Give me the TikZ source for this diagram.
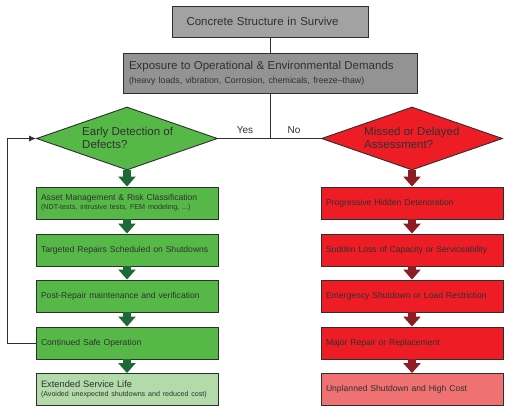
\documentclass[tikz,border=0pt]{standalone}
\usepackage{fontspec}
\setmainfont{Liberation Sans}
\usetikzlibrary{shapes.geometric,arrows.meta}
\definecolor{greyA}{HTML}{A2A2A2}
\definecolor{greyB}{HTML}{939393}
\definecolor{gfill}{HTML}{56B947}
\definecolor{glight}{HTML}{B2DBA9}
\definecolor{rfill}{HTML}{EE1D25}
\definecolor{rlight}{HTML}{F07172}
\definecolor{garr}{HTML}{1D6A36}
\definecolor{rarr}{HTML}{8C1D22}
\definecolor{edge}{HTML}{2E2E2E}
\definecolor{txt}{HTML}{303030}
\tikzset{
  box/.style={draw=edge, line width=0.9pt, rectangle, minimum height=32pt,
    text width=172pt, inner xsep=5pt, inner ysep=0pt, align=left,
    font=\fontsize{8.6}{10}\selectfont, text=txt},
  gbox/.style={box, fill=gfill},
  rbox/.style={box, fill=rfill},
  dia/.style={diamond, draw=edge, line width=0.9pt, minimum width=181pt,
    minimum height=63pt, inner sep=0pt},
  diatext/.style={anchor=west, align=left, inner sep=0pt,
    font=\fontsize{11.5}{13}\selectfont, text=txt},
  garrow/.style={draw=garr, line width=8pt, -{Triangle[width=17pt,length=10pt]}},
  rarrow/.style={draw=rarr, line width=8pt, -{Triangle[width=17pt,length=10pt]}},
  conn/.style={draw=edge, line width=0.9pt},
  lbl/.style={font=\fontsize{10}{12}\selectfont, text=txt, inner sep=0pt}
}
\begin{document}
\begin{tikzpicture}[x=1pt,y=-1pt]
\useasboundingbox (0,0) rectangle (516,416);
% top boxes
\node[draw=edge, line width=0.9pt, fill=greyA, minimum width=196pt, minimum height=31pt,
  text width=167pt, inner xsep=14.5pt, align=left, inner ysep=0pt,
  font=\fontsize{11.5}{13}\selectfont, text=txt] (top) at (270,21.5) {Concrete Structure in Survive};
\node[draw=edge, line width=0.9pt, fill=greyB, minimum width=294pt, minimum height=40pt,
  text width=282pt, inner xsep=6pt, inner ysep=0pt, align=left, text=txt] (exp) at (270,73)
  {{\fontsize{11.5}{15}\selectfont Exposure to Operational \& Environmental Demands}\\[1.5pt]
   {\fontsize{8.8}{10}\selectfont (heavy loads, vibration, Corrosion, chemicals, freeze--thaw)}};
% diamonds
\node[dia, fill=gfill] (dl) at (127,138.5) {};
\node[dia, fill=rfill] (dr) at (412,138.5) {};
\node[diatext] (dlt) at (82,137.5) {Early Detection of\\Defects?};
\node[diatext] (drt) at (364,137.5) {Missed or Delayed\\Assessment?};
% connectors
\coordinate (j) at (270,138.5);
\draw[conn] (top.south) -- (exp.north);
\draw[conn] (exp.south) -- (j);
\draw[conn] (dl.east) -- (dr.west);
\node[lbl] (yes) at (245,130) {Yes};
\node[lbl] (no) at (294,130.5) {No};
% green column
\node[gbox] (g1) at (127,203) {Asset Management \& Risk Classification\\[-1pt]
  {\fontsize{7.2}{8}\selectfont (NDT-tests, intrusive tests, FEM modeling, ...)}};
\node[gbox] (g2) at (127,250) {Targeted Repairs Scheduled on Shutdowns};
\node[gbox] (g3) at (127,296) {Post-Repair maintenance and verification};
\node[gbox] (g4) at (127,343) {Continued Safe Operation};
\node[box, fill=glight] (g5) at (127,389.5) {{\fontsize{9.3}{11}\selectfont Extended Service Life}\\[-1pt]
  {\fontsize{7.1}{9}\selectfont (Avoided unexpected shutdowns and reduced cost)}};
% red column
\node[rbox] (r1) at (412,203) {Progressive Hidden Deterioration};
\node[rbox] (r2) at (412,250) {Sudden Loss of Capacity or Serviceability};
\node[rbox] (r3) at (412,296) {Emergency Shutdown or Load Restriction};
\node[rbox] (r4) at (412,343) {Major Repair or Replacement};
\node[box, fill=rlight] (r5) at (412,389.5) {Unplanned Shutdown and High Cost};
% block arrows
\draw[garrow] (dl.south) -- (g1.north);
\draw[garrow] (g1.south) -- (g2.north);
\draw[garrow] (g2.south) -- (g3.north);
\draw[garrow] (g3.south) -- (g4.north);
\draw[garrow] (g4.south) -- (g5.north);
\draw[rarrow] (dr.south) -- (r1.north);
\draw[rarrow] (r1.south) -- (r2.north);
\draw[rarrow] (r2.south) -- (r3.north);
\draw[rarrow] (r3.south) -- (r4.north);
\draw[rarrow] (r4.south) -- (r5.north);
% feedback loop
\draw[conn, -{Latex[length=7pt,width=6pt]}] (g4.west) -- ++(-28,0) |- (dl.west);
\end{tikzpicture}
\end{document}
